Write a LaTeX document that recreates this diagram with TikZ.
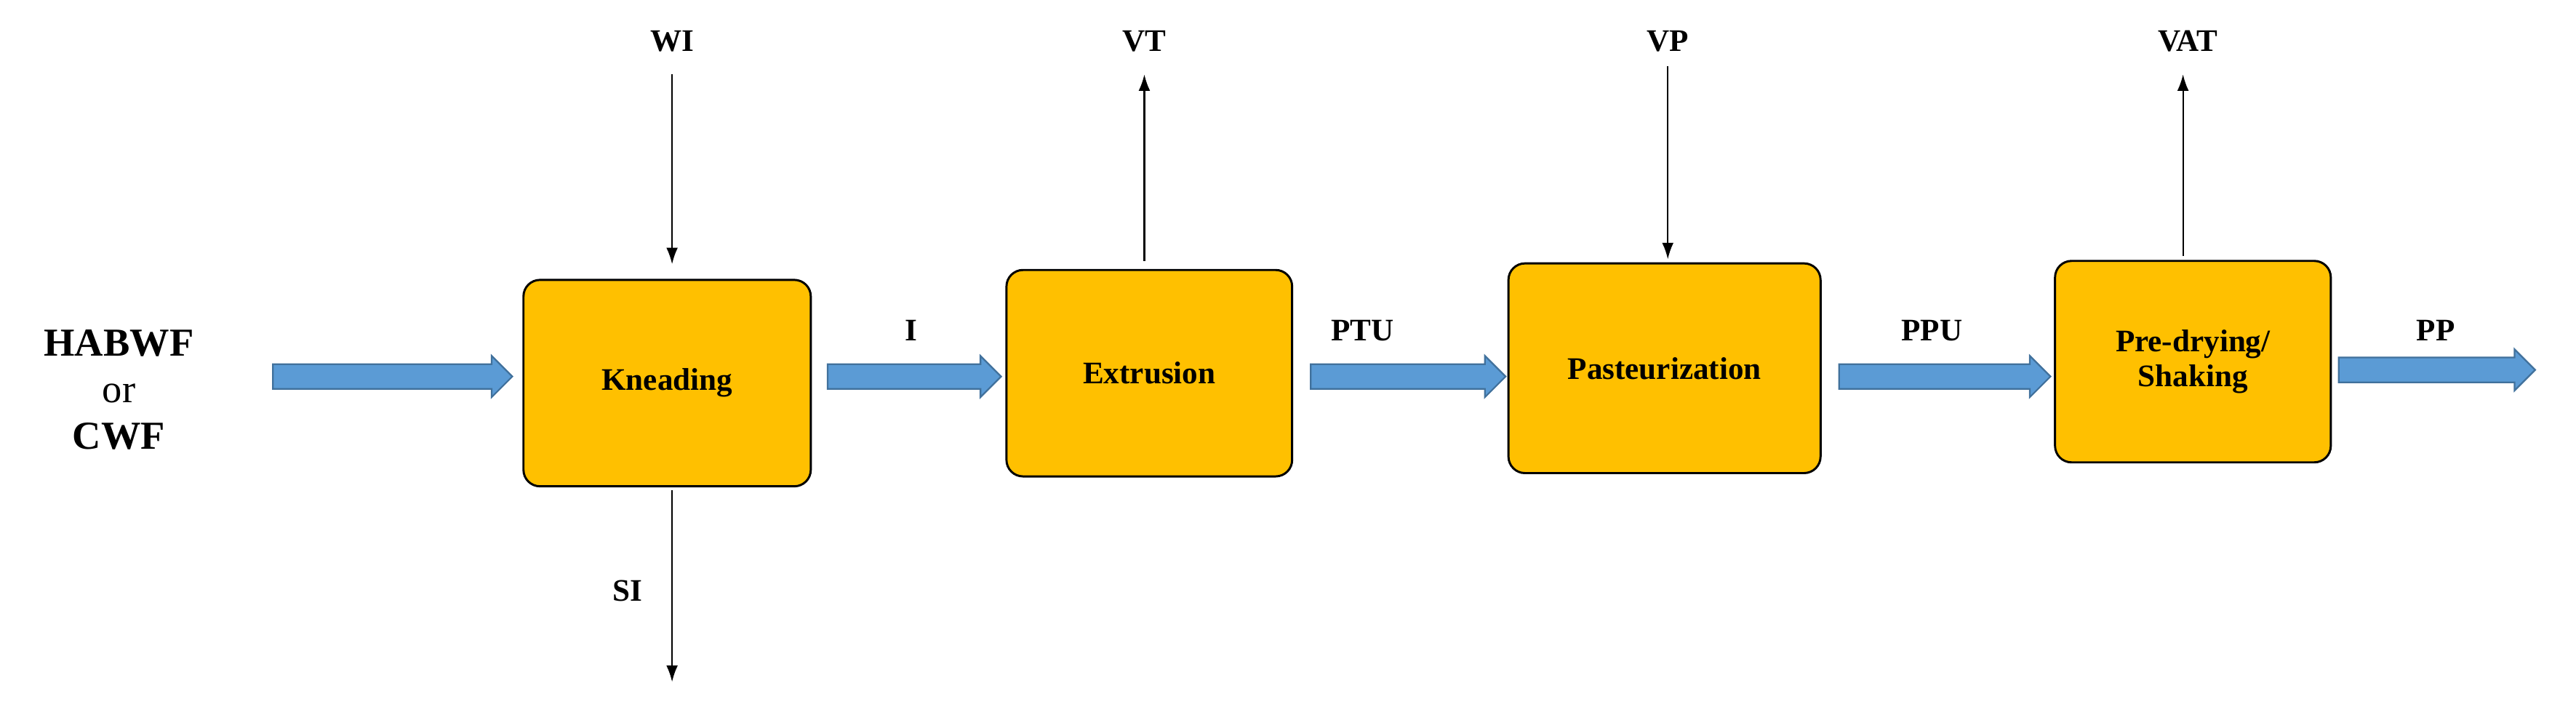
\documentclass[tikz,border=0pt]{standalone}
\usepackage{fontspec}
\setmainfont{Liberation Serif}
\usetikzlibrary{shapes.arrows,arrows.meta}
\definecolor{boxfill}{RGB}{255,192,0}
\definecolor{arrfill}{RGB}{91,155,213}
\definecolor{arrdraw}{RGB}{65,113,156}
\begin{document}
\begin{tikzpicture}[x=1pt,y=-1pt,
  box/.style={draw=black,line width=1.3pt,fill=boxfill,rounded corners=10pt,font=\fontsize{19}{21}\selectfont\bfseries,align=center},
  fat/.style={single arrow,draw=arrdraw,line width=1pt,fill=arrfill,inner xsep=0pt,inner ysep=7pt,text height=0pt,text depth=0pt,single arrow head extend=5pt,minimum height=#1},
  lab/.style={font=\fontsize{19}{21}\selectfont\bfseries},
  thin/.style={-{Latex[length=10pt,width=7pt]},line width=1pt}]
\useasboundingbox (0,0) rectangle (1560,426);
\node[font=\fontsize{24}{26}\selectfont\bfseries,align=center] (in) at (72,236) {HABWF\\[2pt]\mdseries or\\[2pt]CWF};
\node[box,minimum width=174pt,minimum height=125pt] (k) at (404,232) {Kneading};
\node[box,minimum width=173pt,minimum height=125pt] (e) at (696,226) {Extrusion};
\node[box,minimum width=189pt,minimum height=127pt] (p) at (1008,223) {Pasteurization};
\node[box,minimum width=167pt,minimum height=122pt] (d) at (1328,219) {Pre-drying/\\Shaking};
\node[fat=145pt] (a1) at (234,228) {};
\node[fat=105pt] (a2) at (550,228) {};
\node[fat=118pt] (a3) at (849,228) {};
\node[fat=128pt] (a4) at (1174,228) {};
\node[fat=119pt] (a5) at (1472,224) {};
\node[lab] (wi) at (407,25) {WI};
\node[lab] (si) at (380,358) {SI};
\node[lab] (i) at (552,200) {I};
\node[lab] (vt) at (693,25) {VT};
\node[lab] (ptu) at (825,200) {PTU};
\node[lab] (vp) at (1010,25) {VP};
\node[lab] (ppu) at (1170,200) {PPU};
\node[lab] (vat) at (1325,25) {VAT};
\node[lab] (pp) at (1475,200) {PP};
\coordinate (wis) at (407,45);
\coordinate (wie) at (407,160);
\coordinate (sis) at (407,297);
\coordinate (sie) at (407,413);
\coordinate (vts) at (693,158);
\coordinate (vte) at (693,45);
\coordinate (vps) at (1010,40);
\coordinate (vpe) at (1010,157);
\coordinate (vats) at (1322,155);
\coordinate (vate) at (1322,45);
\draw[thin] (wis) -- (wie);
\draw[thin] (sis) -- (sie);
\draw[thin] (vts) -- (vte);
\draw[thin] (vps) -- (vpe);
\draw[thin] (vats) -- (vate);
\end{tikzpicture}
\end{document}
